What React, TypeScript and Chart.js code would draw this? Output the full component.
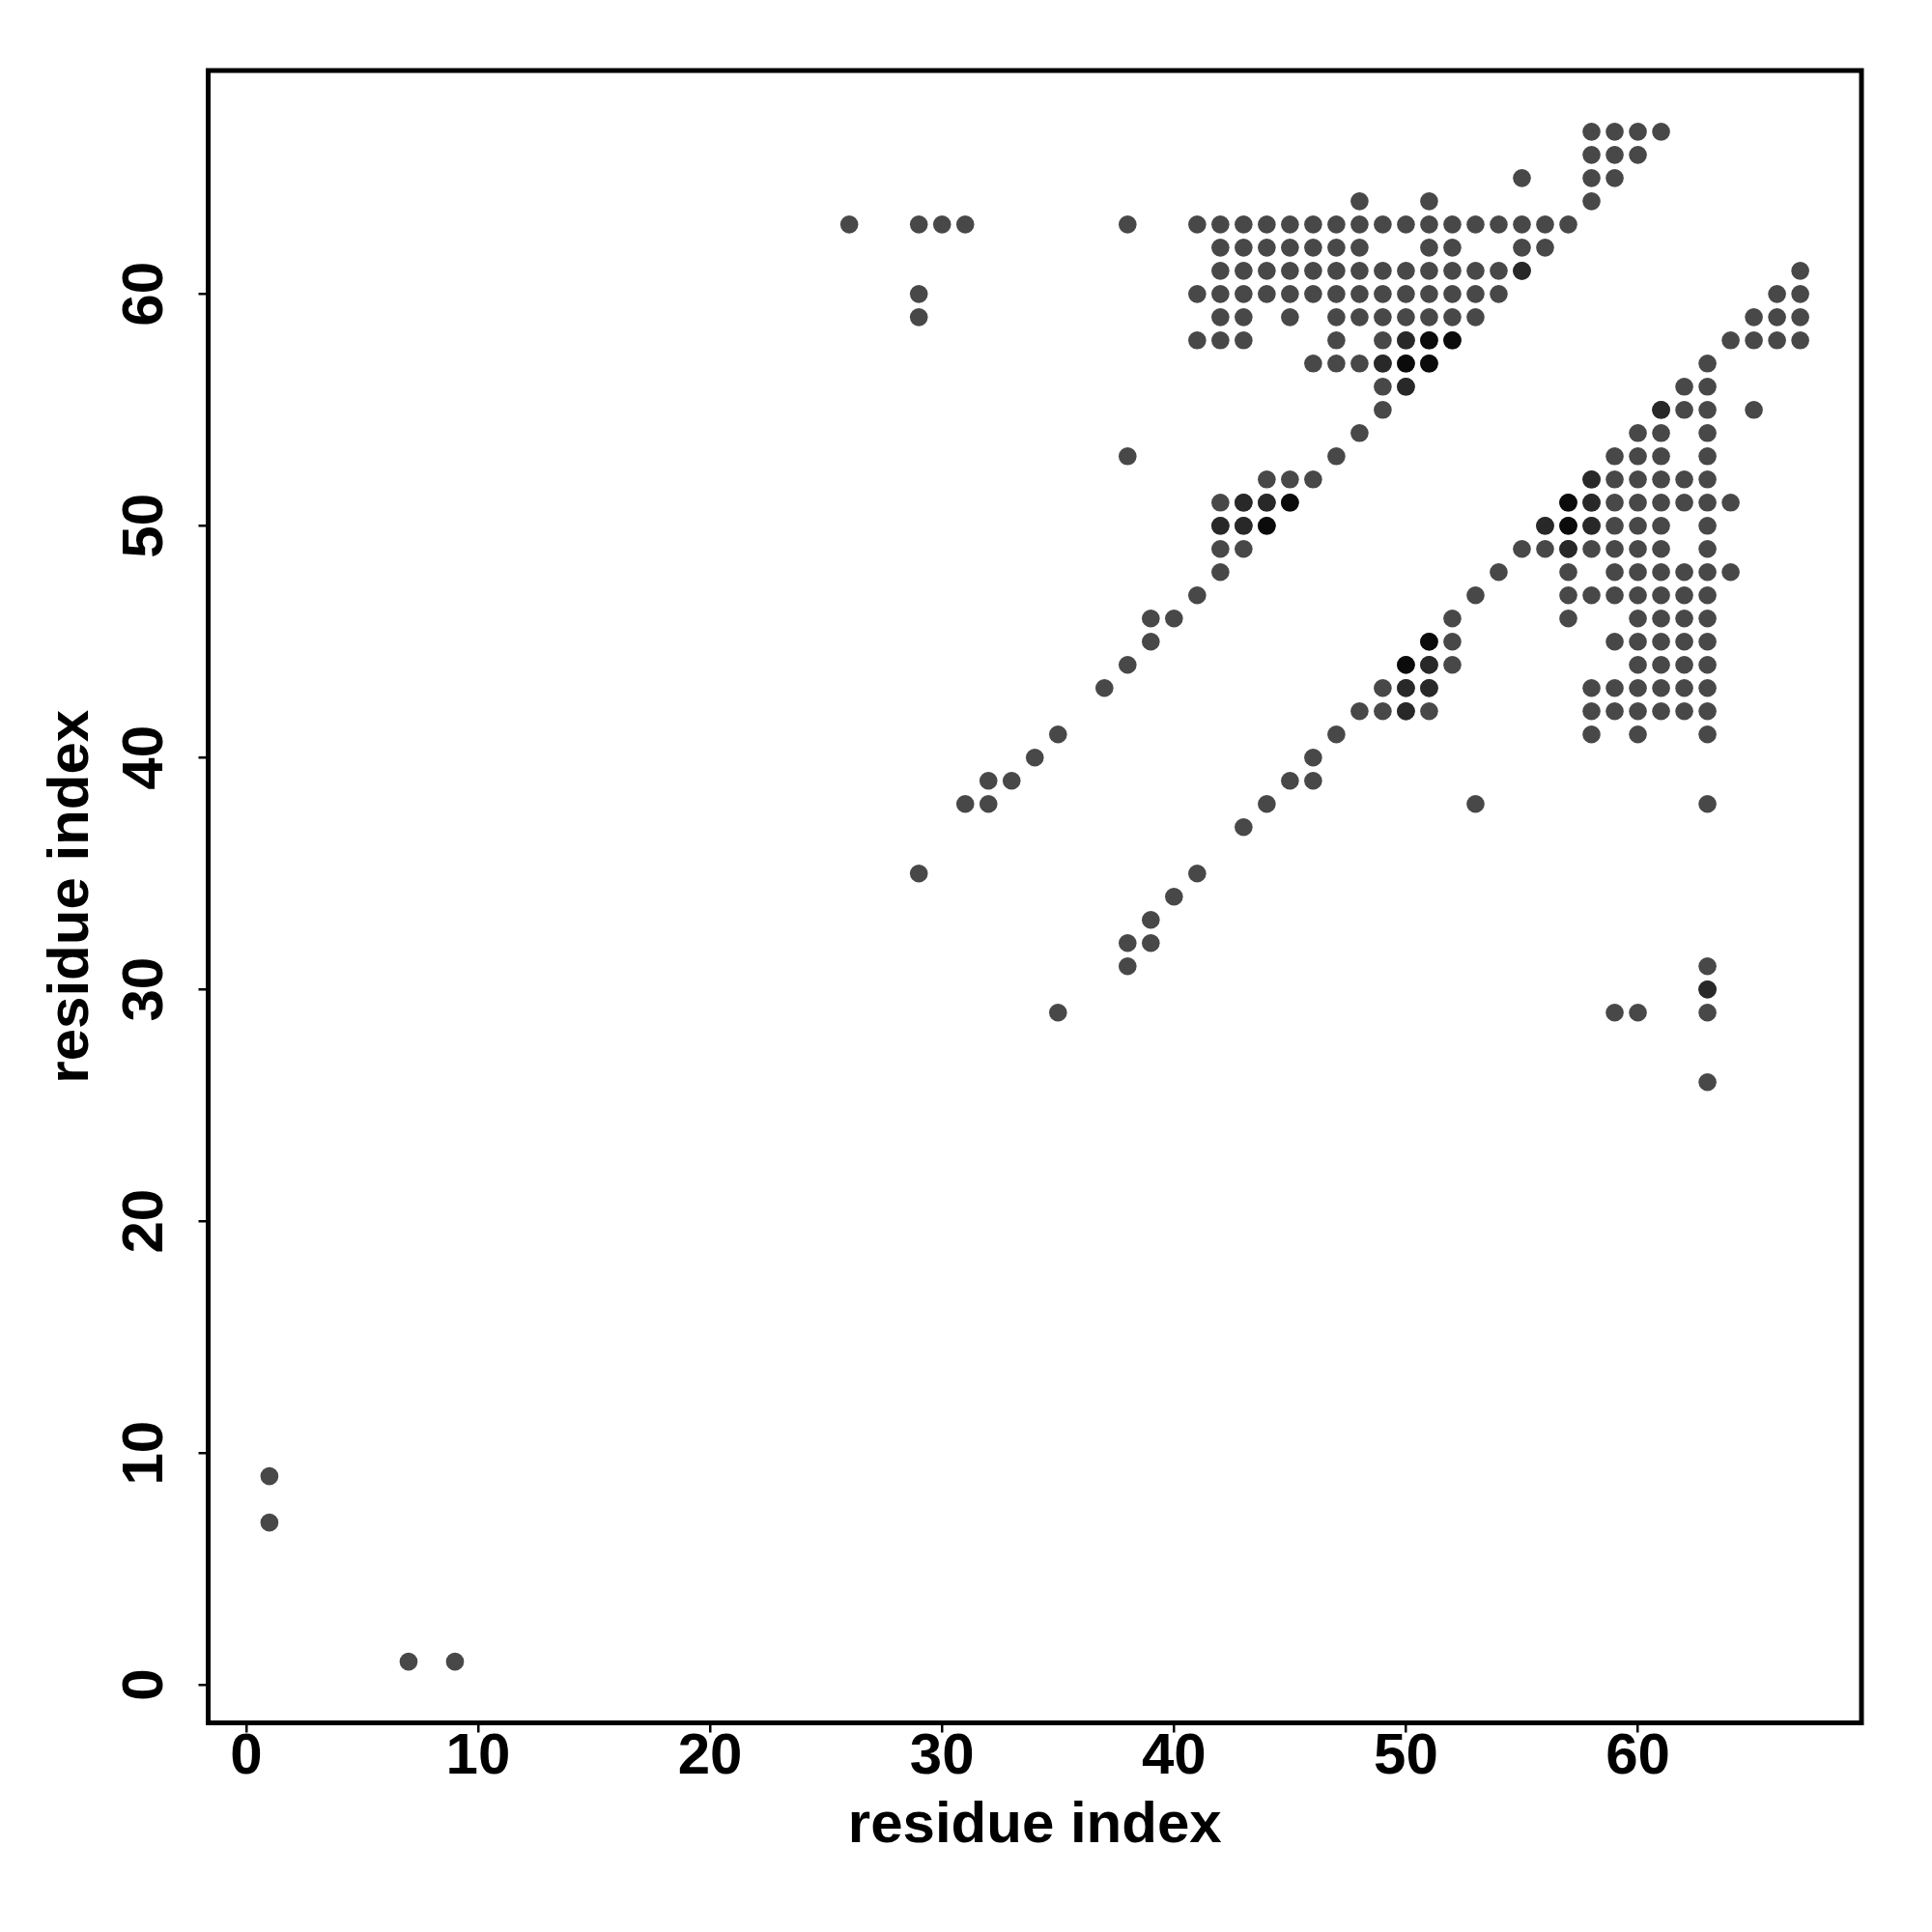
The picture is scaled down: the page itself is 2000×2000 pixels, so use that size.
import React, { useEffect, useRef } from "react";
import { Chart, registerables } from "chart.js";

Chart.register(...registerables);

// Axis range and ticks
const axisMin = -1.64;
const axisMax = 69.64;
const tickValues = [0, 10, 20, 30, 40, 50, 60];
const axisTitle = "residue index";

// Contacts, grouped by row (y residue index) -> list of x residue indices
const rowY = [
  67, 66, 65, 64, 63, 62, 61, 60, 59, 58, 57, 56, 55, 54, 53, 52, 51, 50, 49, 48,
  47, 46, 45, 44, 43, 42, 41, 40, 39, 38, 37, 35, 34, 33, 32, 31, 30, 29, 26, 9, 7, 1,
];
const rowX = [
  [58, 59, 60, 61],
  [58, 59, 60],
  [55, 58, 59],
  [48, 51, 58],
  [26, 29, 30, 31, 38, 41, 42, 43, 44, 45, 46, 47, 48, 49, 50, 51, 52, 53, 54, 55, 56, 57],
  [42, 43, 44, 45, 46, 47, 48, 51, 52, 55, 56],
  [42, 43, 44, 45, 46, 47, 48, 49, 50, 51, 52, 53, 54, 55, 67],
  [29, 41, 42, 43, 44, 45, 46, 47, 48, 49, 50, 51, 52, 53, 54, 66, 67],
  [29, 42, 43, 45, 47, 48, 49, 50, 51, 52, 53, 65, 66, 67],
  [41, 42, 43, 47, 49, 50, 51, 52, 64, 65, 66, 67],
  [46, 47, 48, 49, 50, 51, 63],
  [49, 50, 62, 63],
  [49, 61, 62, 63, 65],
  [48, 60, 61, 63],
  [38, 47, 59, 60, 61, 63],
  [44, 45, 46, 58, 59, 60, 61, 62, 63],
  [42, 43, 44, 45, 57, 58, 59, 60, 61, 62, 63, 64],
  [42, 43, 44, 56, 57, 58, 59, 60, 61, 63],
  [42, 43, 55, 56, 57, 58, 59, 60, 61, 63],
  [42, 54, 57, 59, 60, 61, 62, 63, 64],
  [41, 53, 57, 58, 59, 60, 61, 62, 63],
  [39, 40, 52, 57, 60, 61, 62, 63],
  [39, 51, 52, 59, 60, 61, 62, 63],
  [38, 50, 51, 52, 60, 61, 62, 63],
  [37, 49, 50, 51, 58, 59, 60, 61, 62, 63],
  [48, 49, 50, 51, 58, 59, 60, 61, 62, 63],
  [35, 47, 58, 60, 63],
  [34, 46],
  [32, 33, 45, 46],
  [31, 32, 44, 53, 63],
  [43],
  [29, 41],
  [40],
  [39],
  [38, 39],
  [38, 63],
  [63],
  [35, 59, 60, 63],
  [63],
  [1],
  [1],
  [7, 9],
];

// Overlapping (darker) contacts
const darkX = [50, 49, 50, 55, 43, 44, 42, 43, 51, 50, 51, 50, 61, 58, 58, 56, 58, 57, 63];
const darkY = [58, 57, 56, 61, 51, 51, 50, 50, 44, 43, 43, 42, 55, 52, 51, 50, 50, 49, 30];
const blackX = [50, 51, 51, 52, 45, 44, 51, 50, 57, 57];
const blackY = [57, 57, 58, 58, 51, 50, 45, 44, 51, 50];

export default function App() {
  const ref = useRef<HTMLCanvasElement>(null);

  useEffect(() => {
    if (!ref.current) return;
    const base: { x: number; y: number }[] = [];
    rowY.forEach((y, i) => rowX[i].forEach((x) => base.push({ x, y })));
    const dark = darkX.map((x, i) => ({ x, y: darkY[i] }));
    const black = blackX.map((x, i) => ({ x, y: blackY[i] }));

    const boxPlugin = {
      id: "box",
      afterDraw(chart: any) {
        const { ctx, chartArea: a } = chart;
        ctx.save();
        ctx.lineWidth = 5;
        ctx.strokeStyle = "#000";
        ctx.strokeRect(a.left, a.top, a.right - a.left, a.bottom - a.top);
        ctx.restore();
      },
    };

    const font = {
      family: "'Liberation Sans', Arial, Helvetica, sans-serif",
      weight: "bold" as const,
      size: 60,
      lineHeight: 1,
    };

    const pointStyle = { pointRadius: 9.3, pointHoverRadius: 9.3, borderWidth: 0, pointBorderWidth: 0 };

    const chart = new Chart(ref.current, {
      type: "scatter",
      data: {
        datasets: [
          { data: base, backgroundColor: "#484848", order: 3, ...pointStyle },
          { data: dark, backgroundColor: "#282828", order: 2, ...pointStyle },
          { data: black, backgroundColor: "#0b0b0b", order: 1, ...pointStyle },
        ],
      },
      options: {
        responsive: false,
        animation: false,
        devicePixelRatio: 1,
        events: [],
        layout: { padding: { left: 0, top: 73, right: 73, bottom: 0 } },
        plugins: { legend: { display: false }, tooltip: { enabled: false } },
        scales: {
          x: {
            type: "linear",
            min: axisMin,
            max: axisMax,
            afterBuildTicks: (s: any) => {
              s.ticks = tickValues.map((v) => ({ value: v }));
            },
            afterFit: (s: any) => {
              s.height = 216.5;
            },
            border: { display: false },
            grid: { drawOnChartArea: false, drawTicks: true, tickLength: 10, color: "#000", lineWidth: 2.5 },
            ticks: { color: "#000", font, padding: -4.5, maxRotation: 0, minRotation: 0, autoSkip: false },
            title: { display: true, text: axisTitle, color: "#000", font, padding: { top: 0, bottom: 80 } },
          },
          y: {
            type: "linear",
            min: axisMin,
            max: axisMax,
            afterBuildTicks: (s: any) => {
              s.ticks = tickValues.map((v) => ({ value: v }));
            },
            afterFit: (s: any) => {
              s.width = 215.5;
            },
            border: { display: false },
            grid: { drawOnChartArea: false, drawTicks: true, tickLength: 10, color: "#000", lineWidth: 2.5 },
            ticks: {
              color: "#000",
              font,
              padding: 21,
              minRotation: 90,
              maxRotation: 90,
              crossAlign: "center",
              autoSkip: false,
            },
            title: { display: true, text: axisTitle, color: "#000", font, padding: { top: 44, bottom: 0 } },
          },
        },
      },
      plugins: [boxPlugin],
    } as any);

    return () => chart.destroy();
  }, []);

  return (
    <div style={{ position: "fixed", left: 0, top: 0, width: 2000, height: 2000, background: "#fff" }}>
      <canvas ref={ref} width={2000} height={2000} style={{ display: "block" }} />
    </div>
  );
}
